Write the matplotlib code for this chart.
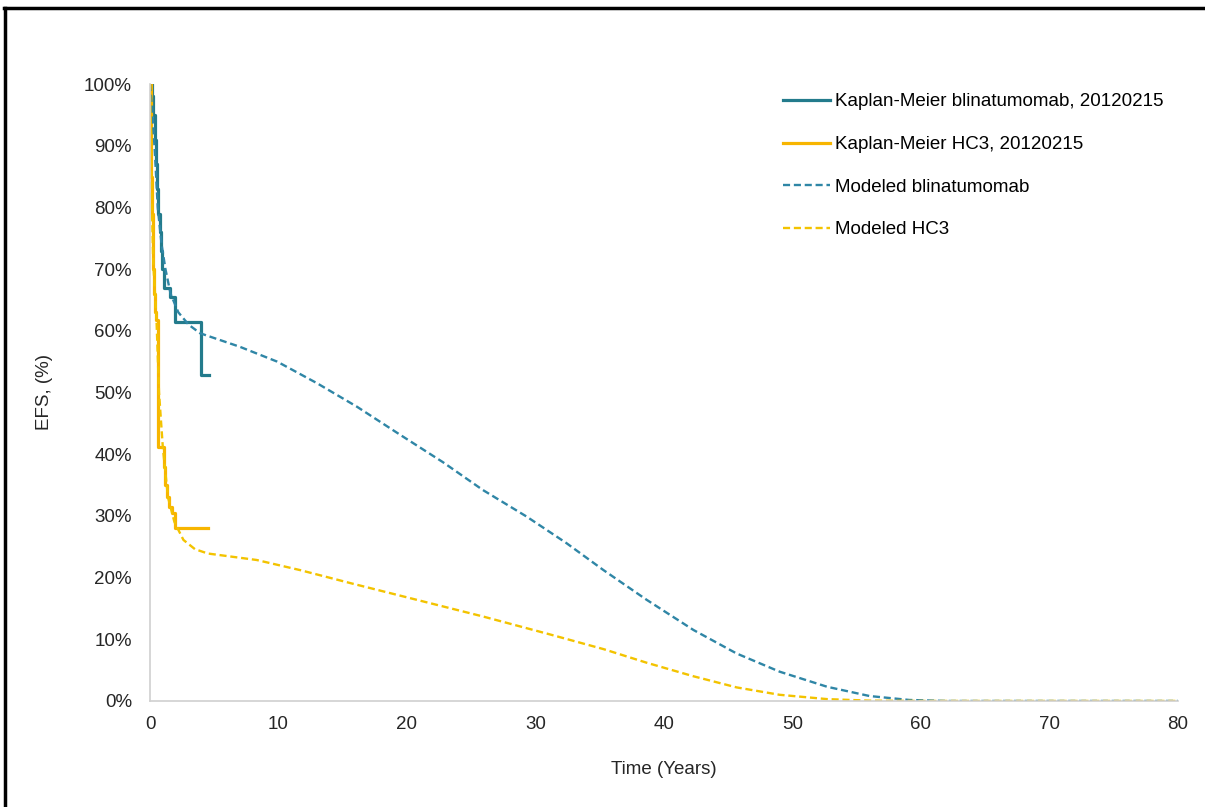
import numpy as np
import matplotlib.pyplot as plt
from matplotlib.lines import Line2D
from matplotlib.ticker import FuncFormatter

plt.rcParams['font.family'] = ['Liberation Sans', 'DejaVu Sans']

# Kaplan-Meier, blinatumomab (years, % event-free)
km_blina_t = [0, 0.15, 0.25, 0.35, 0.45, 0.55, 0.65, 0.75, 0.85, 0.95, 1.05, 1.55, 1.95, 4.0, 4.6]
km_blina_s = [100, 98, 95, 91, 87, 83, 79, 76, 73, 70, 67, 65.5, 61.5, 52.8, 52.8]

# Kaplan-Meier, HC3
km_hc3_t = [0, 0.05, 0.1, 0.15, 0.2, 0.25, 0.3, 0.4, 0.5, 0.65, 1.05, 1.15, 1.3, 1.5, 1.7, 1.95, 4.5]
km_hc3_s = [100, 92, 85, 79, 74, 70, 66, 63, 61.8, 41.2, 38, 35, 33, 31.5, 30.4, 28.0, 28.0]

# Modeled curves
mod_blina_t = [0, 0.2, 0.4, 0.6, 0.9, 1.2, 1.6, 2.2, 3.0, 3.9, 7.0, 9.9, 13.0, 16.1, 19.5,
               22.8, 25.9, 29.3, 32.4, 35.3, 38.65, 42.3, 45.65, 49.0, 52.7, 56.0, 59.1, 62, 70, 80]
mod_blina_s = [100, 95, 88, 80, 74, 70, 66, 63, 61, 59.6, 57.4, 55.0, 51.5, 47.7, 43.1,
               38.7, 34.2, 29.9, 25.6, 21.2, 16.4, 11.5, 7.7, 4.75, 2.3, 0.8, 0.16, 0, 0, 0]

mod_hc3_t = [0, 0.08, 0.15, 0.25, 0.5, 0.7, 1.0, 1.4, 1.9, 2.6, 3.5, 4.5, 8.3, 11.7, 15.6,
             20.75, 25.9, 31.1, 35.3, 38.65, 42.3, 45.65, 49.0, 52.7, 56, 60, 70, 80]
mod_hc3_s = [100, 88, 80, 71, 62, 50, 41, 33, 29, 26.1, 24.6, 23.9, 22.85, 21.2, 19.1,
             16.4, 13.7, 10.8, 8.4, 6.2, 4.0, 2.2, 1.0, 0.3, 0.05, 0, 0, 0]

blue = '#237b8c'
blue_mod = '#2f86a6'
gold = '#f7b500'
gold_mod = '#f3c300'
txt = '#262626'
fs = 13.5

fig = plt.figure(figsize=(12.05, 8.07), dpi=100)
ax = fig.add_axes([0.1245, 0.1314, 0.853, 0.7645])

ax.plot(km_blina_t, km_blina_s, drawstyle='steps-post', color=blue, lw=2.3,
        label='Kaplan-Meier blinatumomab, 20120215')
ax.plot(km_hc3_t, km_hc3_s, drawstyle='steps-post', color=gold, lw=2.3,
        label='Kaplan-Meier HC3, 20120215')
ax.plot(mod_blina_t, mod_blina_s, ls=(0, (3, 1.6)), color=blue_mod, lw=1.7,
        label='Modeled blinatumomab')
ax.plot(mod_hc3_t, mod_hc3_s, ls=(0, (3, 1.6)), color=gold_mod, lw=1.7,
        label='Modeled HC3')

ax.set_xlim(0, 80)
ax.set_ylim(0, 100)
ax.set_xticks(range(0, 81, 10))
ax.set_yticks(range(0, 101, 10))
ax.yaxis.set_major_formatter(FuncFormatter(lambda v, p: f'{int(v)}%'))
ax.tick_params(length=0, labelsize=fs, colors=txt)
ax.tick_params(axis='y', pad=13)
ax.tick_params(axis='x', pad=11)

for s in ['top', 'right']:
    ax.spines[s].set_visible(False)
for s in ['left', 'bottom']:
    ax.spines[s].set_color('#d0d0d0')
    ax.spines[s].set_linewidth(1.2)

ax.set_xlabel('Time (Years)', fontsize=fs, color=txt, labelpad=20)
ax.set_ylabel('EFS, (%)', fontsize=fs, color=txt, labelpad=22)

leg = ax.legend(loc='upper left', bbox_to_anchor=(0.609, 0.997), frameon=False,
                fontsize=fs, handlelength=2.5, handletextpad=0.25,
                labelspacing=1.36, borderaxespad=0)

# outer frame (top and left edges only)
fig.add_artist(Line2D([0.003, 1.0], [1 - 8 / 807, 1 - 8 / 807], color='black', lw=2.5,
                      transform=fig.transFigure))
fig.add_artist(Line2D([5 / 1205, 5 / 1205], [0, 1 - 8 / 807], color='black', lw=2.5,
                      transform=fig.transFigure))

fig.savefig('out.png', dpi=100)
